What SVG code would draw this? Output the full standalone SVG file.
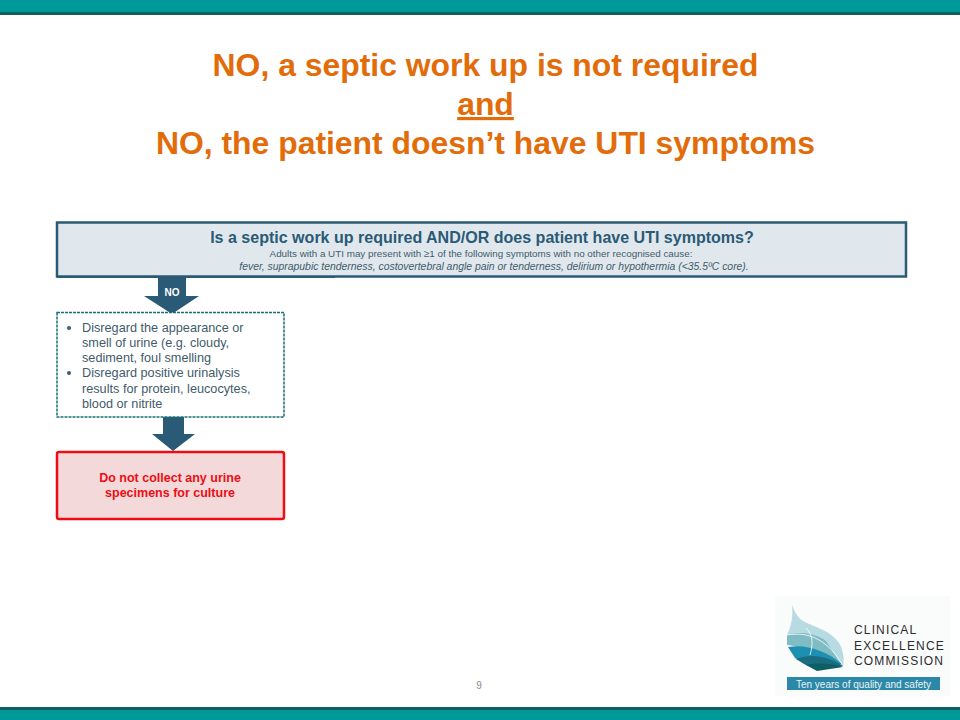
<svg xmlns="http://www.w3.org/2000/svg" width="960" height="720" viewBox="0 0 960 720">
<style>
text{font-family:"Liberation Sans",Arial,sans-serif}
.t{font-size:31.900px;font-weight:700;fill:#e36c0a;text-anchor:middle}
.c{text-anchor:middle}
.n{fill:#2a5a75}
.b{font-size:12.700px;fill:#3f5b6c}
.teal{fill:#00999a}
.dk{fill:#0f5f62}
.seam{fill:none;stroke:#fff;stroke-width:.8}
.logo{font-size:12px;letter-spacing:1.150px;fill:#2b2b2b}
</style>
<rect width="960" height="720" fill="#fff"/>
<g id="header-band"><rect class="teal" width="960" height="12"/><rect class="dk" y="12" width="960" height="3"/></g>
<g id="footer-band"><rect class="dk" y="707" width="960" height="3"/><rect class="teal" y="710" width="960" height="10"/></g>
<g id="title">
<text class="t" x="485.500" y="76">NO, a septic work up is not required</text>
<text class="t" x="485.500" y="115" text-decoration="underline">and</text>
<text class="t" x="485.500" y="154">NO, the patient doesn’t have UTI symptoms</text>
</g>
<g id="connectors">
<polygon class="n" points="158,277 186,277 186,296 199,296 172,314 144,296 158,296"/>
<polygon class="n" points="163,417 184,417 184,434 195,434 173,451 152,434 163,434"/>
</g>
<g id="question">
<rect x="57" y="222.500" width="849" height="54" fill="#e1e8ed" stroke="#2a5a75" stroke-width="2.500"/>
<rect x="57" y="276" width="278" height="2" class="n"/>
<text class="c" x="482" y="243" font-size="16.050" font-weight="700" fill="#2a5a75">Is a septic work up required AND/OR does patient have UTI symptoms?</text>
<text class="c" x="481" y="257" font-size="9.860" fill="#3f5b6c">Adults with a UTI may present with ≥1 of the following symptoms with no other recognised cause:</text>
<text class="c" x="494" y="270" font-size="10.400" font-style="italic" fill="#3f5b6c">fever, suprapubic tenderness, costovertebral angle pain or tenderness, delirium or hypothermia (&lt;35.5ºC core).</text>
</g>
<g id="no-label"><text class="c" x="172" y="296" font-size="10" font-weight="700" fill="#fff">NO</text></g>
<g id="disregard">
<rect x="57" y="312.500" width="227" height="104.500" fill="#fff" stroke="#1a6f75" stroke-width="1.500" stroke-dasharray="3 1"/>
<circle cx="69" cy="328" r="2" fill="#3f5b6c"/>
<circle cx="69" cy="373" r="2" fill="#3f5b6c"/>
<text class="b" x="82" y="332">Disregard the appearance or</text>
<text class="b" x="82" y="347">smell of urine (e.g. cloudy,</text>
<text class="b" x="82" y="362">sediment, foul smelling</text>
<text class="b" x="82" y="377">Disregard positive urinalysis</text>
<text class="b" x="82" y="393">results for protein, leucocytes,</text>
<text class="b" x="82" y="408">blood or nitrite</text>
</g>
<g id="do-not-collect">
<rect x="57" y="452" width="227" height="67" rx="2" fill="#f3d9da" stroke="#ee0d14" stroke-width="2.500"/>
<text class="c" x="170" y="482" font-size="12.500" font-weight="700" fill="#ee0d14">Do not collect any urine</text>
<text class="c" x="170" y="497" font-size="12.500" font-weight="700" fill="#ee0d14">specimens for culture</text>
</g>
<g id="page-number"><text class="c" x="479" y="689" font-size="10" fill="#8a8a8a">9</text></g>
<g id="logo">
<rect x="775" y="596" width="175" height="100" fill="#fafbfb"/>
<path d="M792,605 C796,616 800,620 807,623 C816,627 822,629 827,632 C836,638 841,644 842,650 C844,656 844,661 843,666 L817,670 L787,635 C792,625 793,615 792,605Z" fill="#b7dbe2"/>
<path d="M787,635 C800,631 815,633 826,641 L841,664 C825,654 800,646 787,645Z" fill="#7fbcc4"/>
<path d="M788,647 C805,644 825,650 842,664 C825,664 803,664 795,658Z" fill="#1d8fb0"/>
<path d="M796,659 C812,652 832,658 843,666 C830,670 812,668 804,664Z" fill="#1a6d80"/>
<path d="M806,665 C820,662 834,664 843,667 L817,671Z" fill="#0f5f62"/>
<path class="seam" d="M787,635 C805,632 825,636 842,664 M806,628 C812,634 814,642 810,655"/>
<text class="logo" x="854" y="634">CLINICAL</text>
<text class="logo" x="854" y="650">EXCELLENCE</text>
<text class="logo" x="854" y="665">COMMISSION</text>
<rect x="787" y="677" width="153" height="13" fill="#2c88a8"/>
<text x="863.500" y="687.500" class="c" font-size="10" fill="#eaf3f5">Ten years of quality and safety</text>
</g>
</svg>
